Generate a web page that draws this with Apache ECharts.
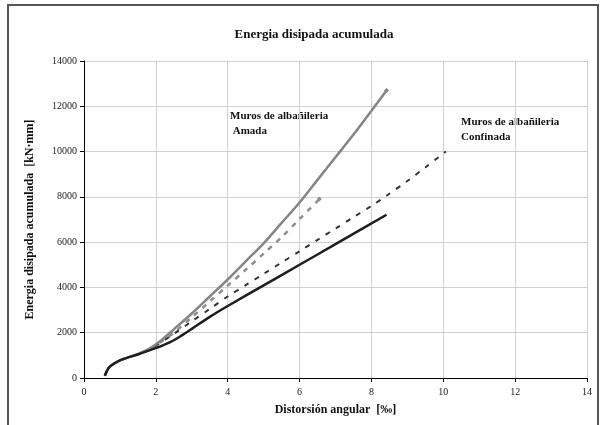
<!DOCTYPE html>
<html>
<head>
<meta charset="utf-8">
<script src="https://cdn.jsdelivr.net/npm/echarts@6/dist/echarts.min.js"></script>
<style>
  html, body { margin: 0; padding: 0; background: #fff; }
  #chart { width: 600px; height: 425px; }
</style>
</head>
<body>
<div id="chart"></div>
<script>
// values (distortion in ‰, energy in kN·mm)
var armadaX = [0.58, 0.65, 0.72, 0.85, 1.0, 1.25, 1.5, 1.8, 2.1, 2.5, 3.0, 3.5, 4.0, 4.5, 5.0, 5.5, 6.0, 6.5, 7.0, 7.5, 8.0, 8.42];
var armadaY = [100, 350, 500, 650, 780, 920, 1060, 1280, 1600, 2150, 2850, 3600, 4350, 5150, 5950, 6850, 7750, 8750, 9750, 10750, 11800, 12700];

var armada2X = [0.58, 0.65, 0.72, 0.85, 1.0, 1.25, 1.5, 1.8, 2.1, 2.5, 3.0, 3.5, 4.0, 4.5, 5.0, 5.5, 6.0, 6.55];
var armada2Y = [100, 350, 500, 650, 780, 920, 1060, 1270, 1550, 2000, 2680, 3380, 4080, 4780, 5490, 6220, 7020, 7900];

var confDashX = [0.58, 0.65, 0.72, 0.85, 1.0, 1.25, 1.5, 1.8, 2.1, 2.5, 3.0, 3.5, 4.0, 4.5, 5.0, 5.5, 6.0, 6.5, 7.0, 7.5, 8.0, 8.42, 9.0, 9.5, 10.07];
var confDashY = [100, 350, 500, 650, 780, 920, 1060, 1270, 1530, 1950, 2500, 3050, 3600, 4100, 4600, 5100, 5600, 6100, 6600, 7100, 7600, 8050, 8700, 9300, 10000];

var confX = [0.58, 0.65, 0.72, 0.85, 1.0, 1.25, 1.5, 1.8, 2.1, 2.4, 2.7, 3.0, 3.5, 4.0, 5.0, 6.0, 7.0, 8.42];
var confY = [100, 350, 500, 650, 780, 920, 1040, 1210, 1380, 1580, 1860, 2170, 2700, 3180, 4090, 5000, 5910, 7210];

function pairs(xs, ys) {
    return xs.map(function (x, i) { return [x, ys[i]]; });
}

// small marker only on the last measured point
function endMarker(n) {
    return function (val, params) { return params.dataIndex === n - 1 ? 5 : 0; };
}

var serif = '"Liberation Serif", "DejaVu Serif", serif';

var myChart = echarts.init(document.getElementById('chart'));
var option = {
    backgroundColor: '#fff',
    animation: false,
    textStyle: {
        fontFamily: serif
    },
    title: {
        text: 'Energia disipada acumulada',
        left: 309,
        top: 23,
        textAlign: 'center',
        textStyle: {
            fontFamily: serif,
            fontSize: 13,
            fontWeight: 'bold',
            color: '#111'
        }
    },
    grid: {
        left: 84,
        right: 13,
        top: 61,
        bottom: 47
    },
    xAxis: {
        type: 'value',
        min: 0,
        max: 14,
        interval: 2,
        name: 'Distorsión angular  [‰]',
        nameLocation: 'middle',
        nameGap: 26,
        nameTextStyle: {
            fontFamily: serif,
            fontSize: 12,
            fontWeight: 'bold',
            color: '#111'
        },
        axisLine: { lineStyle: { color: '#000', width: 1 } },
        axisTick: { show: true, length: 4, lineStyle: { color: '#000' } },
        axisLabel: { fontFamily: serif, fontSize: 10, color: '#222', margin: 9 },
        splitLine: { lineStyle: { color: '#d0d0d0', width: 1 } }
    },
    yAxis: {
        type: 'value',
        min: 0,
        max: 14000,
        interval: 2000,
        name: 'Energia disipada acumulada  [kN·mm]',
        nameLocation: 'middle',
        nameGap: 48,
        nameTextStyle: {
            fontFamily: serif,
            fontSize: 12,
            fontWeight: 'bold',
            color: '#111'
        },
        axisLine: { show: true, lineStyle: { color: '#000', width: 1 } },
        axisTick: { show: true, length: 4, lineStyle: { color: '#000' } },
        axisLabel: {
            fontFamily: serif,
            fontSize: 10,
            color: '#222',
            margin: 7,
            formatter: function (v) { return String(v); }
        },
        splitLine: { lineStyle: { color: '#d0d0d0', width: 1 } }
    },
    series: [
        {
            name: 'Armada',
            type: 'line',
            data: pairs(armadaX, armadaY),
            smooth: 0.3,
            symbol: 'diamond',
            symbolSize: endMarker(armadaX.length),
            itemStyle: { color: '#858585' },
            lineStyle: { color: '#858585', width: 2.5 },
            z: 4
        },
        {
            name: 'Armada 2',
            type: 'line',
            data: pairs(armada2X, armada2Y),
            smooth: 0.3,
            symbol: 'diamond',
            symbolSize: endMarker(armada2X.length),
            itemStyle: { color: '#8e8e8e' },
            lineStyle: { color: '#8e8e8e', width: 2.5, type: [5, 6] },
            z: 3
        },
        {
            name: 'Confinada 2',
            type: 'line',
            data: pairs(confDashX, confDashY),
            smooth: 0.3,
            showSymbol: false,
            lineStyle: { color: '#333', width: 2, type: [5, 7] },
            z: 3
        },
        {
            name: 'Confinada',
            type: 'line',
            data: pairs(confX, confY),
            smooth: 0.3,
            showSymbol: false,
            lineStyle: { color: '#1e1e1e', width: 2.5 },
            z: 4
        }
    ],
    graphic: [
        {
            type: 'rect',
            shape: { x: 8, y: 5, width: 590, height: 440 },
            style: { fill: null, stroke: '#555', lineWidth: 2 },
            silent: true
        },
        {
            type: 'text',
            left: 230,
            top: 109,
            style: {
                text: 'Muros de albañileria\n Amada',
                fontFamily: serif,
                fontSize: 11,
                fontWeight: 'bold',
                lineHeight: 15,
                fill: '#111'
            }
        },
        {
            type: 'text',
            left: 461,
            top: 115,
            style: {
                text: 'Muros de albañileria\nConfinada',
                fontFamily: serif,
                fontSize: 11,
                fontWeight: 'bold',
                lineHeight: 15,
                fill: '#111'
            }
        }
    ]
};
myChart.setOption(option);
</script>
</body>
</html>
